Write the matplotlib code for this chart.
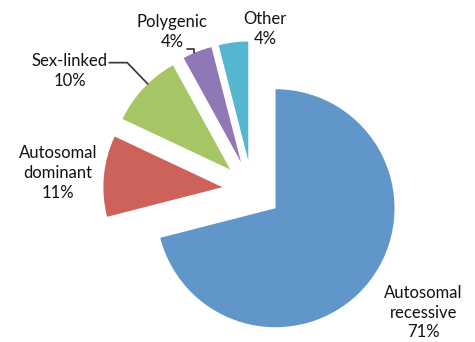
import numpy as np
import matplotlib.pyplot as plt

labels = ['Autosomal\nrecessive', 'Autosomal\ndominant', 'Sex-linked', 'Polygenic', 'Other']
shares = [71, 11, 10, 4, 4]
colors = ['#6096CA', '#CC625A', '#A6C564', '#9078B6', '#55B7CF']

# label centres in data units (pie radius = 1)
label_pos = [(1.44, -1.03), (-1.63, 0.14), (-1.53, 1.0), (-0.67, 1.33), (0.11, 1.355)]

W, H = 475, 342
cx, cy, R = 252, 190, 119  # pie centre / radius in pixels

fig = plt.figure(figsize=(W / 100, H / 100), dpi=100)
ax = fig.add_axes([0, 0, 1, 1])

wedges, _ = ax.pie(shares, colors=colors, startangle=90, counterclock=False,
                   explode=[0.25] * len(shares), radius=1,
                   wedgeprops=dict(linewidth=0))

ax.set_xlim(-cx / R, (W - cx) / R)
ax.set_ylim(-(H - cy) / R, cy / R)
ax.set_aspect('auto')
ax.axis('off')

for lab, val, (x, y) in zip(labels, shares, label_pos):
    ax.text(x, y, f'{lab}\n{val}%', ha='center', va='center',
            fontsize=12, family='Lato', color='#111111', linespacing=1.3)


def arc_point(w, frac=0.5):
    ang = np.deg2rad(w.theta1 + (w.theta2 - w.theta1) * frac)
    return (w.center[0] + w.r * np.cos(ang), w.center[1] + w.r * np.sin(ang))


# leader lines for sex-linked and polygenic
ax.annotate('', xy=arc_point(wedges[2], 0.42), xytext=(-1.2, 1.07),
            arrowprops=dict(arrowstyle='-', color='#333333', lw=1.2,
                            shrinkA=0, shrinkB=0,
                            connectionstyle='angle,angleA=0,angleB=-46,rad=0'))
ax.annotate('', xy=arc_point(wedges[3], 0.6), xytext=(-0.55, 1.185),
            arrowprops=dict(arrowstyle='-', color='#333333', lw=1.2,
                            shrinkA=0, shrinkB=0,
                            connectionstyle='angle,angleA=0,angleB=90,rad=0'))

fig.savefig('out.png', dpi=100)
